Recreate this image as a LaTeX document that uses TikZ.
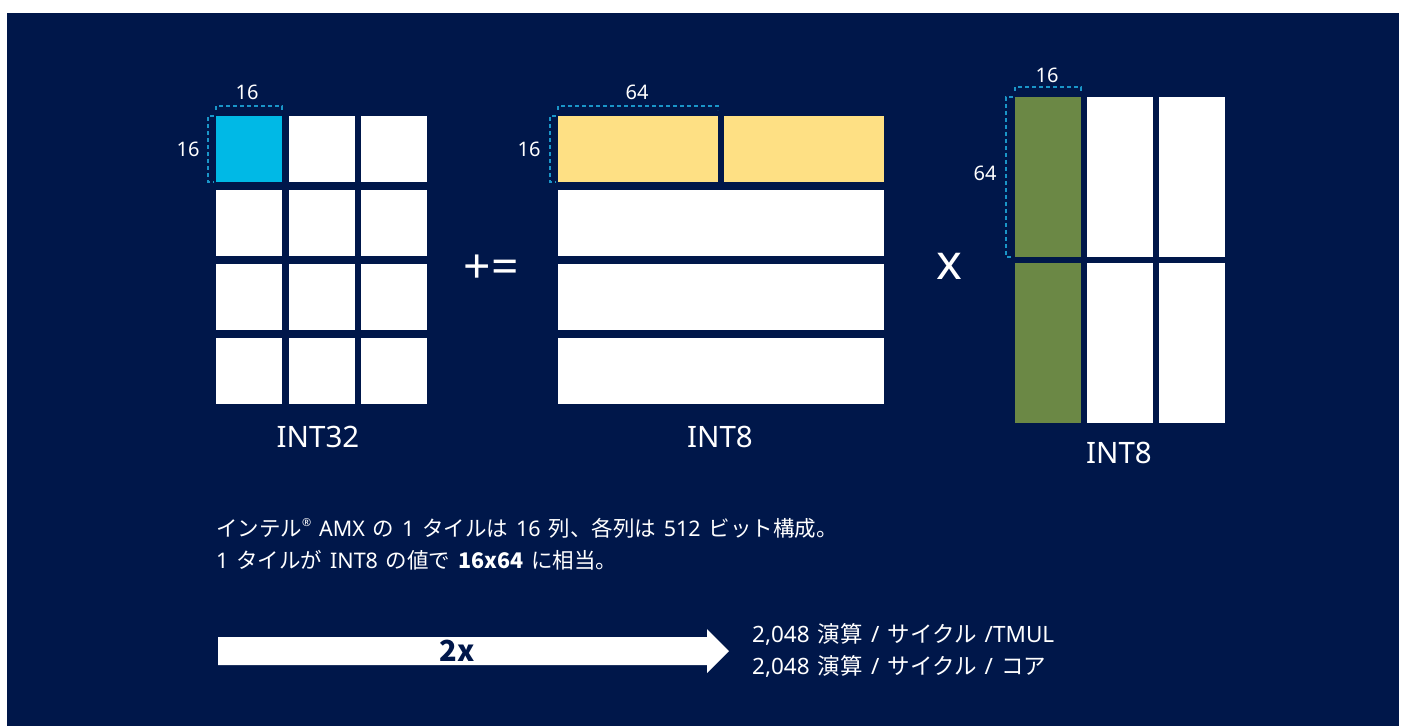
\documentclass[tikz,border=0pt]{standalone}
\usepackage{fontspec}
\setmainfont[WordSpace=1.4]{Noto Sans}
\newfontfamily\jp[WordSpace=1.4]{Noto Sans CJK JP}
\definecolor{bg}{HTML}{00174A}
\definecolor{tcyan}{HTML}{00B9E6}
\definecolor{tyellow}{HTML}{FEE084}
\definecolor{tgreen}{HTML}{6B8845}
\definecolor{dashc}{HTML}{1A95C8}
\tikzset{
  cell/.style={rectangle, inner sep=0pt, outer sep=0pt, anchor=north west, fill=white, draw=none},
  sq/.style={cell, minimum width=66pt, minimum height=66pt},
  bar/.style={cell, minimum width=160pt, minimum height=66pt},
  wbar/.style={cell, minimum width=326pt, minimum height=66pt},
  col/.style={cell, minimum width=66pt, minimum height=160pt},
  dim/.style={draw=dashc, line width=1.1pt, dash pattern=on 4pt off 3pt},
  lbl/.style={text=white, inner sep=0pt, font=\fontsize{20}{24}\selectfont},
  big/.style={text=white, inner sep=0pt, font=\fontsize{29.5}{34}\selectfont},
  para/.style={text=white, inner sep=0pt, anchor=west, font=\fontsize{21.5}{24}\selectfont},
  rtext/.style={text=white, inner sep=0pt, anchor=west, font=\fontsize{22.5}{26}\selectfont},
}
\begin{document}
\begin{tikzpicture}[x=1pt,y=-1pt]
\useasboundingbox (0,0) rectangle (1405,726);
\fill[white] (0,0) rectangle (1405,726);
\fill[bg] (7,13) rectangle (1399,726);

% INT32 grid
\node[sq, fill=tcyan] (a11) at (216,116) {};
\node[sq] (a12) at (289,116) {};
\node[sq] (a13) at (361,116) {};
\node[sq] (a21) at (216,190) {};
\node[sq] (a22) at (289,190) {};
\node[sq] (a23) at (361,190) {};
\node[sq] (a31) at (216,264) {};
\node[sq] (a32) at (289,264) {};
\node[sq] (a33) at (361,264) {};
\node[sq] (a41) at (216,338) {};
\node[sq] (a42) at (289,338) {};
\node[sq] (a43) at (361,338) {};
\draw[dim] ([yshift=6pt]a11.north west) -- ([yshift=10pt]a11.north west) -- ([yshift=10pt]a11.north east) -- ([yshift=6pt]a11.north east);
\draw[dim] ([xshift=-2pt]a11.north west) -- ([xshift=-8pt]a11.north west) -- ([xshift=-8pt]a11.south west) -- ([xshift=-2pt]a11.south west);
\node[lbl] (a16t) at (247,92) {16};
\node[lbl] (a16l) at (188,149) {16};
\node[big] (aname) at (318,437) {INT32};

% INT8 middle
\node[bar, fill=tyellow] (b11) at (558,116) {};
\node[bar, fill=tyellow] (b12) at (724,116) {};
\node[wbar] (b2) at (558,190) {};
\node[wbar] (b3) at (558,264) {};
\node[wbar] (b4) at (558,338) {};
\draw[dim] ([yshift=6pt]b11.north west) -- ([yshift=10pt]b11.north west) -- ([yshift=10pt]b11.north east) -- ([yshift=6pt]b11.north east);
\draw[dim] ([xshift=-2pt]b11.north west) -- ([xshift=-8pt]b11.north west) -- ([xshift=-8pt]b11.south west) -- ([xshift=-2pt]b11.south west);
\node[lbl] (b64t) at (637,92) {64};
\node[lbl] (b16l) at (529,149) {16};
\node[big] (bname) at (720,437) {INT8};

% INT8 right
\node[col, fill=tgreen] (c11) at (1015,97) {};
\node[col] (c12) at (1087,97) {};
\node[col] (c13) at (1159,97) {};
\node[col, fill=tgreen] (c21) at (1015,263) {};
\node[col] (c22) at (1087,263) {};
\node[col] (c23) at (1159,263) {};
\draw[dim] ([yshift=6pt]c11.north west) -- ([yshift=10pt]c11.north west) -- ([yshift=10pt]c11.north east) -- ([yshift=6pt]c11.north east);
\draw[dim] ([xshift=-2pt]c11.north west) -- ([xshift=-9pt]c11.north west) -- ([xshift=-9pt]c11.south west) -- ([xshift=-2pt]c11.south west);
\node[lbl] (c16t) at (1047,75) {16};
\node[lbl] (c64l) at (985,173) {64};
\node[big] (cname) at (1119,453) {INT8};

% operators
\node[text=white, inner sep=0pt, font=\fontsize{48}{50}\selectfont] (pluseq) at (491,269) {+=};
\node[text=white, inner sep=0pt, font=\fontsize{49}{52}\selectfont] (times) at (949,266) {x};

% paragraph
\node[para] (p1) at (216,528) {{\jp インテル}\raisebox{0.45em}{\fontsize{11}{12}\selectfont ®} AMX {\jp の} 1 {\jp タイルは} 16 {\jp 列、各列は} 512 {\jp ビット構成。}};
\node[para] (p2) at (216,560) {1 {\jp タイルが} INT8 {\jp の値で} {\jp\bfseries 16x64} {\jp に相当。}};

% arrow
\fill[white] (218,637) -- (707,637) -- (707,629) -- (729,651) -- (707,673) -- (707,665) -- (218,665) -- cycle;
\node[text=bg, inner sep=0pt, font=\fontsize{29}{30}\selectfont\jp\bfseries] (twox) at (457,651) {2x};
\node[rtext] (r1) at (752,634) {2,048 {\jp 演算} / {\jp サイクル} /TMUL};
\node[rtext] (r2) at (752,666) {2,048 {\jp 演算} / {\jp サイクル} / {\jp コア}};
\end{tikzpicture}
\end{document}
